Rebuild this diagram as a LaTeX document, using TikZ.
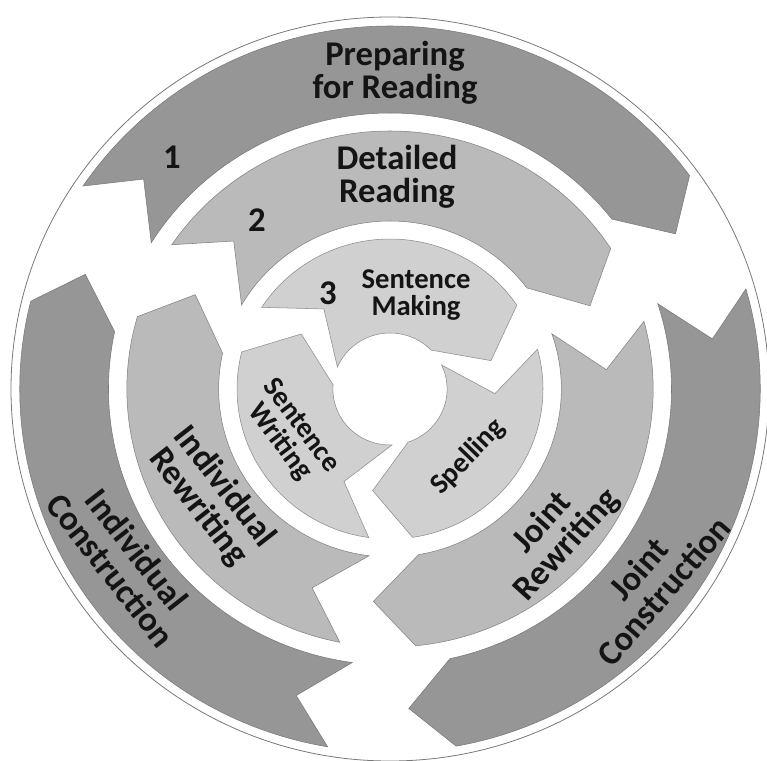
\documentclass[tikz,border=0pt]{standalone}
\usepackage{fontspec}
\setmainfont{Carlito}

\tikzset{every picture/.style={line width=0.75pt}}
\tikzset{
  outerband/.style={fill={rgb, 255:red, 150; green, 150; blue, 150}, draw={rgb, 255:red, 120; green, 120; blue, 120}, line width=0.4pt},
  middleband/.style={fill={rgb, 255:red, 186; green, 186; blue, 186}, draw={rgb, 255:red, 130; green, 130; blue, 130}, line width=0.4pt},
  innerband/.style={fill={rgb, 255:red, 208; green, 208; blue, 208}, draw={rgb, 255:red, 140; green, 140; blue, 140}, line width=0.4pt},
  bigtext/.style={font=\fontsize{26}{25}\selectfont\bfseries, align=center, inner sep=0.75pt, text={rgb, 255:red, 20; green, 20; blue, 20}},
  smalltext/.style={font=\fontsize{21.5}{20}\selectfont\bfseries, align=center, inner sep=0.75pt, text={rgb, 255:red, 20; green, 20; blue, 20}},
}

\begin{document}
\begin{tikzpicture}[x=0.75pt,y=0.75pt,yscale=-1,xscale=1]
\useasboundingbox (0,0) rectangle (767,760);

%Shape: Circle
\draw [color={rgb, 255:red, 120; green, 120; blue, 120 }, line width=0.6] (390,389) ellipse [x radius=379, y radius=372];

\begin{scope}[shift={(390,389)}, xscale=1.02]
%Shape: Block Arc (ring 1, Preparing for Reading)
\draw [outerband] (-146:363) arc [start angle=-146, end angle=-36, radius=363] -- (-29:320) -- (-38:276) arc [start angle=-38, end angle=-148, radius=276] -- (-139:320) -- cycle;
%Shape: Block Arc (ring 1, Joint Construction)
\draw [outerband] (-16:363) arc [start angle=-16, end angle=79.7, radius=363] -- (86.7:320) -- (77.7:276) arc [start angle=77.7, end angle=-18, radius=276] -- (-9:320) -- cycle;
%Shape: Block Arc (ring 1, Individual Construction)
\draw [outerband] (99.7:363) arc [start angle=99.7, end angle=194, radius=363] -- (201:320) -- (192:276) arc [start angle=192, end angle=97.7, radius=276] -- (106.7:320) -- cycle;

%Shape: Block Arc (ring 2, Detailed Reading)
\draw [middleband] (-146:258) arc [start angle=-146, end angle=-33, radius=258] -- (-23:213) -- (-37:168) arc [start angle=-37, end angle=-150, radius=168] -- (-136:213) -- cycle;
%Shape: Block Arc (ring 2, Joint Rewriting)
\draw [middleband] (-15.2:258) arc [start angle=-15.2, end angle=84.4, radius=258] -- (94.4:213) -- (80.4:168) arc [start angle=80.4, end angle=-19.2, radius=168] -- (-5.2:213) -- cycle;
%Shape: Block Arc (ring 2, Individual Rewriting)
\draw [middleband] (101:258) arc [start angle=101, end angle=196.3, radius=258] -- (206.3:213) -- (192.3:168) arc [start angle=192.3, end angle=97, radius=168] -- (111:213) -- cycle;

%Shape: Block Arc (ring 3, Sentence Making)
\draw [innerband] (-147:150) arc [start angle=-147, end angle=-34, radius=150] -- (-16:103) -- (-44:56) arc [start angle=-44, end angle=-157, radius=56] -- (-129:103) -- cycle;
%Shape: Block Arc (ring 3, Spelling)
\draw [innerband] (-15.4:150) arc [start angle=-15.4, end angle=81.5, radius=150] -- (99.5:103) -- (71.5:56) arc [start angle=71.5, end angle=-25.4, radius=56] -- (2.6:103) -- cycle;
%Shape: Block Arc (ring 3, Sentence Writing)
\draw [innerband] (98:150) arc [start angle=98, end angle=194.3, radius=150] -- (212.3:103) -- (184.3:56) arc [start angle=184.3, end angle=88, radius=56] -- (116:103) -- cycle;
\end{scope}

% Text Node
\draw (395,73) node (prep) [bigtext] {Preparing\\for Reading};
% Text Node
\draw (397,177) node (detail) [bigtext] {Detailed\\Reading};
% Text Node
\draw (172,157) node (one) [bigtext] {1};
% Text Node
\draw (257,220) node (two) [bigtext] {2};
% Text Node
\draw (328,293) node (three) [bigtext] {3};
% Text Node
\draw (416,295) node (making) [smalltext] {Sentence\\Making};
% Text Node
\draw (290,434) node (swriting) [smalltext, rotate=-53] {Sentence\\Writing};
% Text Node
\draw (468,457) node (spelling) [smalltext, rotate=46] {Spelling};
% Text Node
\draw (211,497) node (irewrite) [bigtext, rotate=-52] {Individual\\Rewriting};
% Text Node
\draw (124,560) node (iconstr) [bigtext, rotate=-52] {Individual\\Construction};
% Text Node
\draw (555,534) node (jrewrite) [bigtext, rotate=48] {Joint\\Rewriting};
% Text Node
\draw (651,580) node (jconstr) [bigtext, rotate=49] {Joint\\Construction};

\end{tikzpicture}
\end{document}
